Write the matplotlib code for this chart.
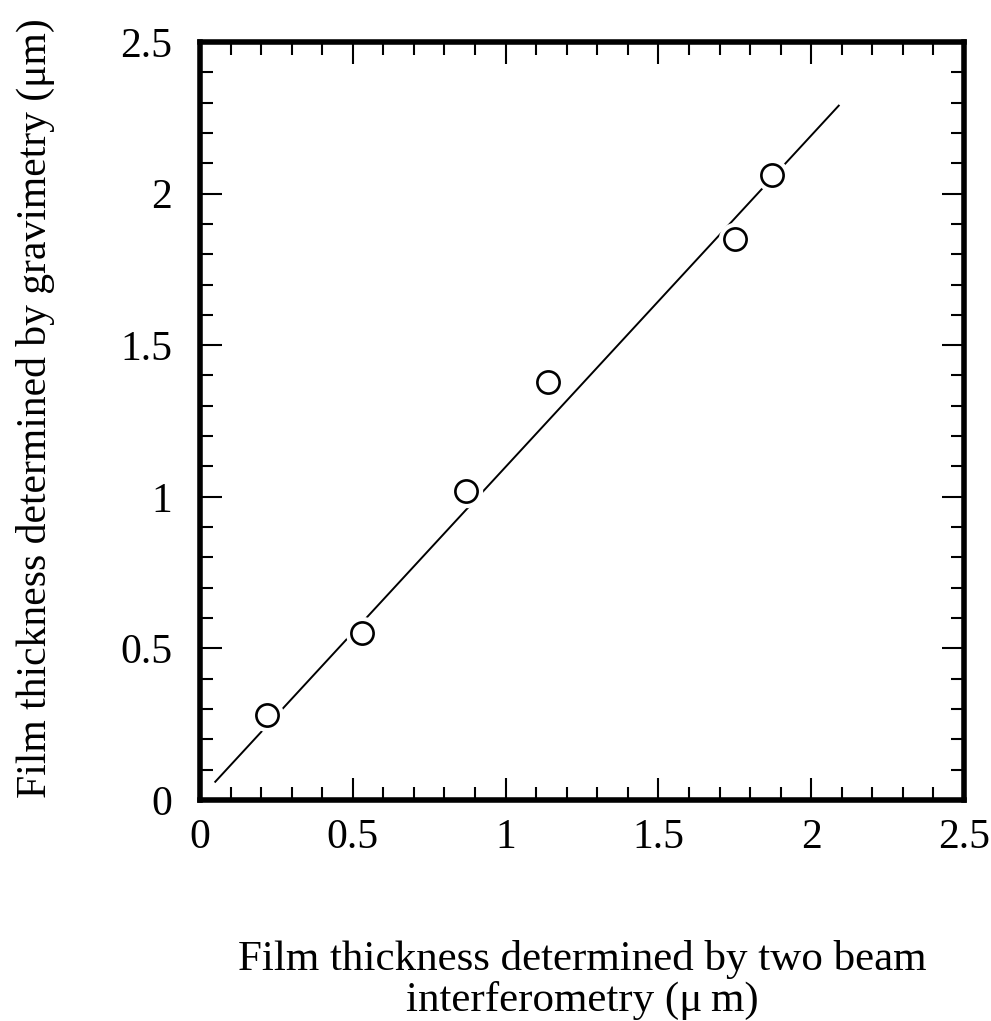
import matplotlib
matplotlib.use('Agg')
import matplotlib.pyplot as plt
from matplotlib.ticker import MultipleLocator

# thickness by two-beam interferometry (x) vs gravimetry (y), in um
interf = [0.22, 0.53, 0.87, 1.14, 1.75, 1.87]
gravim = [0.28, 0.55, 1.02, 1.38, 1.85, 2.06]

# end points of the fitted straight line
fit_x = [0.05, 2.09]
fit_y = [0.06, 2.29]

ticks = [0, 0.5, 1, 1.5, 2, 2.5]
tick_labels = ['0', '0.5', '1', '1.5', '2', '2.5']

plt.rcParams.update({'font.family': ['Liberation Serif', 'DejaVu Serif'],
                     'mathtext.fontset': 'stix'})

fig = plt.figure(figsize=(9.91, 10.21), dpi=100)
ax = fig.add_axes([0.2018, 0.2165, 0.771, 0.7424])

ax.plot(fit_x, fit_y, color='black', lw=1.4, zorder=2)
# white disc under each marker breaks the line around the circle
ax.plot(interf, gravim, 'o', ms=24, mfc='white', mec='none', zorder=3)
ax.plot(interf, gravim, 'o', ms=16, mfc='white', mec='black', mew=1.9,
        zorder=4)

ax.set_xlim(0, 2.5)
ax.set_ylim(0, 2.5)
ax.set_xticks(ticks)
ax.set_xticklabels(tick_labels)
ax.set_yticks(ticks)
ax.set_yticklabels(tick_labels)
ax.xaxis.set_minor_locator(MultipleLocator(0.1))
ax.yaxis.set_minor_locator(MultipleLocator(0.1))
ax.tick_params(which='both', direction='in', top=True, right=True,
               width=1.5, labelsize=30)
ax.tick_params(which='major', length=16)
ax.tick_params(which='minor', length=9.5)
ax.tick_params(axis='x', which='major', pad=13)
ax.tick_params(axis='y', which='major', pad=20)
for sp in ax.spines.values():
    sp.set_linewidth(4)

ax.set_xlabel('Film thickness determined by two beam\n'
              'interferometry (\u03bc\u2009m)', fontsize=31,
              linespacing=1.05)
ax.xaxis.set_label_coords(0.5, -0.185)
ax.set_ylabel('Film thickness determined by gravimetry (\u03bcm)',
              fontsize=30)
ax.yaxis.set_label_coords(-0.19, 0.517)

fig.savefig('out.png', dpi=100, facecolor='white')
